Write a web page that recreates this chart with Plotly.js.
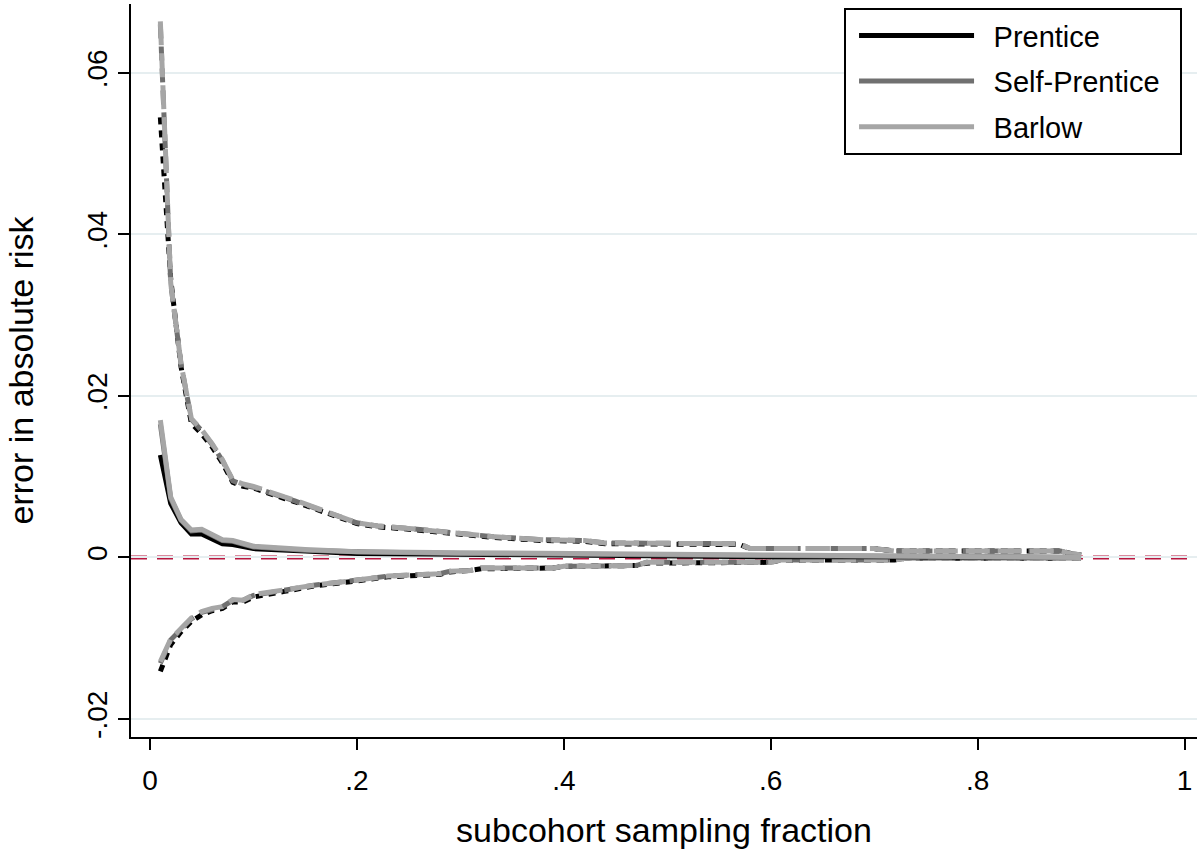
<!DOCTYPE html>
<html>
<head>
<meta charset="utf-8">
<script src="https://cdn.plot.ly/plotly-3.0.1.min.js"></script>
<style>html,body{margin:0;padding:0;background:#fff;}#chart{width:1200px;height:849px;}</style>
</head>
<body>
<div id="chart"></div>
<script>
// ---- data ----
const seriesNames = ["Prentice", "Self-Prentice", "Barlow"];

// central (solid) curves
const midX = [0.01,0.02,0.03,0.04,0.05,0.06,0.07,0.08,0.09,0.10,0.15,0.20,0.30,0.44,0.50,0.60,0.70,0.80,0.90];
const prenticeMid     = [0.0127,0.0067,0.0043,0.0029,0.0029,0.0023,0.0017,0.0016,0.0013,0.0011,0.0008,0.0005,0.0004,0.0002,0.0002,0.0001,0.0001,0.0000,0.0000];
const selfPrenticeMid = [0.0165,0.0073,0.0046,0.0033,0.0034,0.0027,0.0021,0.0020,0.0016,0.0013,0.0009,0.0007,0.0005,0.0004,0.0003,0.0002,0.0002,0.0001,0.0000];
const barlowMid       = [0.0170,0.0075,0.0047,0.0034,0.0035,0.0028,0.0022,0.0021,0.0017,0.0014,0.0010,0.0007,0.0006,0.0004,0.0004,0.0003,0.0002,0.0001,0.0000];

// upper (dashed) curves
const upX = [0.01,0.02,0.03,0.04,0.05,0.06,0.07,0.08,0.09,0.10,0.13,0.14,0.20,0.22,0.25,0.30,0.33,0.38,0.42,0.44,0.48,0.57,0.58,0.70,0.72,0.88,0.89,0.90];
const prenticeUp     = [0.0545,0.0345,0.0236,0.0166,0.0153,0.0137,0.0117,0.0093,0.0088,0.0086,0.0073,0.0069,0.0042,0.0038,0.0035,0.0028,0.0025,0.0021,0.0020,0.0017,0.0017,0.0016,0.0011,0.0011,0.0008,0.0008,0.0005,0.0003];
const selfPrenticeUp = [0.0660,0.0340,0.0239,0.0171,0.0157,0.0140,0.0120,0.0095,0.0090,0.0087,0.0074,0.0070,0.0043,0.0039,0.0036,0.0029,0.0026,0.0022,0.0021,0.0018,0.0018,0.0017,0.0011,0.0011,0.0008,0.0008,0.0005,0.0003];
const barlowUp       = [0.0664,0.0340,0.0240,0.0172,0.0158,0.0141,0.0121,0.0096,0.0091,0.0088,0.0075,0.0071,0.0043,0.0039,0.0036,0.0029,0.0026,0.0022,0.0021,0.0018,0.0018,0.0017,0.0011,0.0011,0.0008,0.0008,0.0005,0.0003];

// lower (dashed) curves
const lowX = [0.01,0.02,0.03,0.04,0.05,0.06,0.07,0.08,0.09,0.10,0.13,0.16,0.20,0.23,0.28,0.29,0.31,0.32,0.39,0.40,0.47,0.48,0.60,0.61,0.72,0.73,0.90];
const prenticeLow     = [-0.0141,-0.0108,-0.0092,-0.0079,-0.0071,-0.0066,-0.0063,-0.0055,-0.0055,-0.0049,-0.0042,-0.0035,-0.0029,-0.0024,-0.0021,-0.0018,-0.0016,-0.0014,-0.0013,-0.0011,-0.0010,-0.0007,-0.0006,-0.0003,-0.0003,-0.0001,-0.0001];
const selfPrenticeLow = [-0.0131,-0.0102,-0.0089,-0.0076,-0.0068,-0.0064,-0.0061,-0.0053,-0.0053,-0.0047,-0.0040,-0.0034,-0.0028,-0.0023,-0.0020,-0.0017,-0.0016,-0.0013,-0.0013,-0.0011,-0.0010,-0.0006,-0.0006,-0.0003,-0.0003,-0.0001,-0.0001];
const barlowLow       = [-0.0129,-0.0101,-0.0088,-0.0075,-0.0067,-0.0063,-0.0061,-0.0052,-0.0053,-0.0046,-0.0040,-0.0034,-0.0028,-0.0023,-0.0020,-0.0017,-0.0016,-0.0013,-0.0013,-0.0011,-0.0010,-0.0006,-0.0006,-0.0003,-0.0003,-0.0001,-0.0001];

const xTickVals = [0, 0.2, 0.4, 0.6, 0.8, 1];
const xTickText = ["0", ".2", ".4", ".6", ".8", "1"];
const yTickVals = [-0.02, 0, 0.02, 0.04, 0.06];
const yTickText = ["-.02", "0", ".02", ".04", ".06"];

// ---- styles ----
const colors = ["#000000", "#707070", "#a6a6a6"];
const dashes = ["7px,6px", "14px,8px", "24px,8px"];
const FONT = "Liberation Sans, Arial, Helvetica, sans-serif";
const PAD = "\u2002"; // spacing in legend labels

const mids = [prenticeMid, selfPrenticeMid, barlowMid];
const ups = [prenticeUp, selfPrenticeUp, barlowUp];
const lows = [prenticeLow, selfPrenticeLow, barlowLow];

const traces = [];
for (let i = 0; i < 3; i++) {
  traces.push({x: upX, y: ups[i], mode: "lines", showlegend: false, hoverinfo: "skip", legendgroup: "g" + i,
    line: {color: colors[i], width: 5, dash: dashes[i]}});
  traces.push({x: lowX, y: lows[i], mode: "lines", showlegend: false, hoverinfo: "skip", legendgroup: "g" + i,
    line: {color: colors[i], width: 5, dash: dashes[i]}});
}
for (let i = 0; i < 3; i++) {
  traces.push({x: midX, y: mids[i], mode: "lines", name: PAD + seriesNames[i] + PAD, legendgroup: "g" + i,
    line: {color: colors[i], width: 5}});
}

const layout = {
  width: 1200, height: 849,
  margin: {l: 131, r: 3, t: 4, b: 112, pad: 0},
  paper_bgcolor: "#fff", plot_bgcolor: "#fff",
  font: {family: FONT, color: "#000", size: 28},
  xaxis: {
    range: [-0.01837, 1.01208], tickvals: xTickVals, ticktext: xTickText,
    showgrid: false, zeroline: false, showline: true, linecolor: "#000", linewidth: 2,
    ticks: "outside", ticklen: 11, tickwidth: 2, tickcolor: "#000",
    tickfont: {size: 28, family: FONT}, ticklabelstandoff: 6,
    title: {text: "subcohort sampling fraction", font: {size: 34, family: FONT}, standoff: 24}
  },
  yaxis: {
    range: [-0.02223, 0.06854], tickvals: yTickVals, ticktext: yTickText, tickangle: -90,
    showgrid: true, gridcolor: "#e6eef0", gridwidth: 2, zeroline: false,
    showline: true, linecolor: "#000", linewidth: 2,
    ticks: "outside", ticklen: 11, tickwidth: 2, tickcolor: "#000",
    tickfont: {size: 28, family: FONT},
    title: {text: "error in absolute risk", font: {size: 34, family: FONT}, standoff: 38}
  },
  shapes: [{type: "line", xref: "paper", x0: 0, x1: 1, yref: "y", y0: 0, y1: 0, layer: "between",
    line: {color: "#b8163f", width: 4, dash: "16px,10px"}}],
  legend: {
    x: 0.6689, y: 0.9945, xanchor: "left", yanchor: "top",
    bgcolor: "#fff", bordercolor: "#000", borderwidth: 2, indentation: 8,
    font: {size: 29, family: FONT}, itemwidth: 115, tracegroupgap: 5, traceorder: "grouped"
  }
};

Plotly.newPlot("chart", traces, layout, {staticPlot: true, displayModeBar: false});
</script>
</body>
</html>
